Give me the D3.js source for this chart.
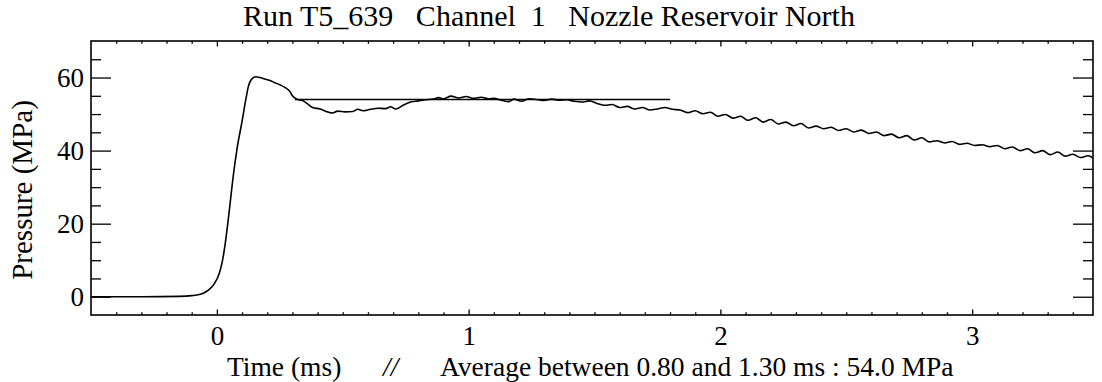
<!DOCTYPE html>
<html>
<head>
<meta charset="utf-8">
<script src="https://cdn.jsdelivr.net/npm/d3@7"></script>
<style>
  body { margin: 0; background: #fff; }
  .axis path, .axis line { stroke: #000; }
</style>
</head>
<body>
<div id="chart"></div>
<script>
// pressure trace, [time (ms), pressure (MPa)]
const timeMs = [-0.5, -0.3, -0.15, -0.1, -0.07, -0.05, -0.03, -0.01, 0.01, 0.024, 0.035, 0.05, 0.064, 0.08, 0.1, 0.115, 0.125, 0.14, 0.155, 0.17, 0.19, 0.21, 0.23, 0.25, 0.27, 0.29, 0.3, 0.32, 0.34, 0.36, 0.38, 0.41, 0.44, 0.46, 0.48, 0.51, 0.54, 0.56, 0.58, 0.61, 0.64, 0.67, 0.69, 0.71, 0.74, 0.77, 0.8, 0.83, 0.86, 0.88, 0.9, 0.93, 0.96, 0.99, 1.02, 1.05, 1.08, 1.1, 1.13, 1.16, 1.18, 1.21, 1.24, 1.27, 1.3, 1.33, 1.36, 1.39, 1.42, 1.45, 1.48, 1.51, 1.54, 1.57, 1.6, 1.63, 1.66, 1.69, 1.72, 1.75, 1.78, 1.81, 1.84, 1.87, 1.9, 1.93, 1.96, 1.99, 2.02, 2.05, 2.08, 2.11, 2.14, 2.17, 2.2, 2.23, 2.26, 2.29, 2.32, 2.35, 2.38, 2.41, 2.44, 2.47, 2.5, 2.53, 2.56, 2.59, 2.62, 2.65, 2.68, 2.71, 2.74, 2.77, 2.8, 2.83, 2.86, 2.89, 2.92, 2.95, 2.98, 3.01, 3.04, 3.07, 3.1, 3.13, 3.16, 3.19, 3.22, 3.25, 3.28, 3.31, 3.34, 3.37, 3.4, 3.43, 3.46, 3.48]
const pressure = [0, 0, 0.1, 0.3, 0.6, 1.1, 2.0, 3.6, 6.5, 10.5, 15.5, 24, 32.5, 40.5, 48, 54, 57.5, 59.7, 60.2, 60, 59.6, 59.2, 58.6, 58, 57.3, 56.2, 55, 54, 53.7, 52.8, 51.8, 51.4, 50.6, 50.3, 50.8, 50.6, 50.7, 51.3, 50.9, 51.3, 51.6, 51.5, 52, 51.4, 52.4, 53.3, 53.6, 53.9, 54.1, 54.5, 54.2, 54.9, 54.4, 54.8, 54.3, 54.6, 54.2, 54.3, 53.8, 53.4, 54.1, 53.5, 54.2, 54, 53.7, 54.1, 53.8, 53.9, 53.5, 53.3, 53.6, 52.9, 52.4, 52.6, 51.8, 52.1, 51.4, 51.8, 51.1, 51.4, 51.8, 51.3, 51.1, 50.4, 50.9, 50.1, 50.5, 49.4, 49.9, 48.9, 49.4, 48.3, 49, 47.8, 48.5, 47.3, 47.8, 46.8, 47.4, 46.2, 46.7, 46, 46.4, 45.5, 46, 45.1, 45.6, 44.7, 45.1, 44.1, 44.5, 43.5, 44.1, 42.9, 43.5, 42.4, 42.7, 42.1, 42.5, 41.7, 42, 41.4, 41.6, 41.1, 41.4, 40.5, 41, 40, 40.5, 39.4, 40, 38.9, 39.6, 38.5, 39, 38.1, 38.6, 38]

// plateau average line
const avgStart = 0.31
const avgEnd = 1.8
const avgValue = 54.0

const xMajor = [0, 1, 2, 3]
const yMajor = [0, 20, 40, 60]

const titleText = "Run T5_639   Channel  1   Nozzle Reservoir North"
const xTitleParts = ["Time (ms)", "//", "Average between 0.80 and 1.30 ms : 54.0 MPa"]
const yTitle = "Pressure (MPa)"

const FONT = '"Liberation Serif"'

const W = 1102, H = 382
const margin = { top: 41, right: 9, bottom: 67, left: 91 }
const width = W - margin.left - margin.right
const height = H - margin.top - margin.bottom

const svg = d3.select('#chart').append('svg')
    .attr('width', W)
    .attr('height', H)

const g = svg.append('g')
    .attr('transform', `translate(${margin.left}, ${margin.top})`)

const x = d3.scaleLinear().domain([-0.5, 3.48]).range([0, width])
const y = d3.scaleLinear().domain([-5, 70]).range([height, 0])

// minor tick positions
const xMinor = d3.range(-4, 35).map(i => i / 10).filter(v => !xMajor.includes(v))
const yMinor = d3.range(0, 14).map(i => i * 5).filter(v => !yMajor.includes(v))

// tick lengths like IDL: fraction of the perpendicular extent
const xLen = 5.5, yLen = 20

const drawAxis = (axisFn, scale, values, len, labels, transform) => {
    const a = g.append('g').attr('class', 'axis').attr('transform', transform)
    a.call(axisFn(scale).tickValues(values).tickSizeInner(-len).tickSizeOuter(0)
        .tickFormat(labels ? d3.format('d') : ''))
    a.attr('font-family', null).attr('font-size', null)
    a.select('.domain').remove()
    a.selectAll('line').attr('stroke-width', 1.3)
    a.selectAll('text').style('font-family', FONT).attr('fill', '#000')
    return a
}

// bottom + top
const xb = drawAxis(d3.axisBottom, x, xMajor, xLen, true, `translate(0, ${height})`)
xb.selectAll('text').style('font-size', '27px').attr('dy', 0).attr('y', 29.5)
drawAxis(d3.axisBottom, x, xMinor, xLen / 2, false, `translate(0, ${height})`)
drawAxis(d3.axisTop, x, xMajor, xLen, false, 'translate(0, 0)')
drawAxis(d3.axisTop, x, xMinor, xLen / 2, false, 'translate(0, 0)')

// left + right
const yl = drawAxis(d3.axisLeft, y, yMajor, yLen, true, 'translate(0, 0)')
yl.selectAll('text').style('font-size', '27px').attr('x', -7).attr('dy', '0.34em')
drawAxis(d3.axisLeft, y, yMinor, yLen / 2, false, 'translate(0, 0)')
drawAxis(d3.axisRight, y, yMajor, yLen, false, `translate(${width}, 0)`)
drawAxis(d3.axisRight, y, yMinor, yLen / 2, false, `translate(${width}, 0)`)

// frame
g.append('rect')
    .attr('x', 0).attr('y', 0)
    .attr('width', width).attr('height', height)
    .attr('fill', 'none')
    .attr('stroke', '#000')
    .attr('stroke-width', 1.6)

// trace
const data = timeMs.map((t, i) => [t, pressure[i]])
const line = d3.line().curve(d3.curveMonotoneX).x(d => x(d[0])).y(d => y(d[1]))
g.append('path')
    .datum(data)
    .attr('d', line)
    .attr('fill', 'none')
    .attr('stroke', '#000')
    .attr('stroke-width', 1.6)
    .attr('stroke-linejoin', 'round')

// average line
g.append('line')
    .attr('x1', x(avgStart)).attr('x2', x(avgEnd))
    .attr('y1', y(avgValue)).attr('y2', y(avgValue))
    .attr('stroke', '#000')
    .attr('stroke-width', 1.6)

// titles
svg.append('text')
    .attr('x', 549).attr('y', 26)
    .attr('text-anchor', 'middle')
    .style('font-family', FONT)
    .style('font-size', '30px')
    .style('white-space', 'pre')
    .text(titleText)

const xTitleX = [227, 383, 440]
xTitleParts.forEach((t, i) => {
    svg.append('text')
        .attr('x', xTitleX[i]).attr('y', 375.5)
        .style('font-family', FONT)
        .style('font-size', '27.5px')
        .style('font-style', i === 1 ? 'italic' : 'normal')
        .text(t)
})

svg.append('text')
    .attr('transform', `translate(32, 190) rotate(-90)`)
    .attr('text-anchor', 'middle')
    .style('font-family', FONT)
    .style('font-size', '29px')
    .text(yTitle)
</script>
</body>
</html>
